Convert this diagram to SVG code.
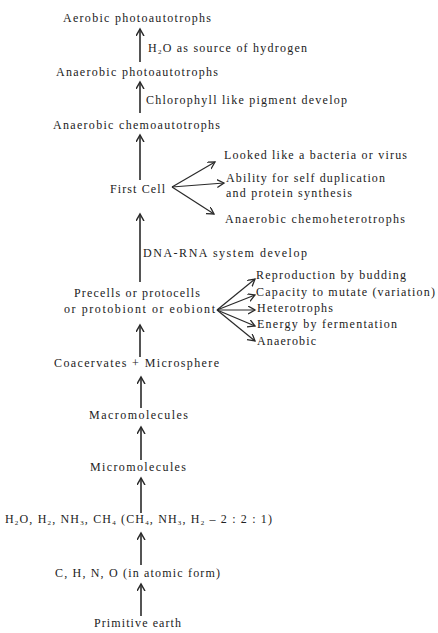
<svg xmlns="http://www.w3.org/2000/svg" width="438" height="633" viewBox="0 0 438 633">
<style>
text{font-family:"Liberation Serif","Times New Roman",serif;font-size:12px;fill:#222}
.sub{font-size:7px}
.ln{stroke:#2a2a2a;stroke-width:1.6;fill:none}
.br{stroke:#2a2a2a;stroke-width:1.2;fill:none}
</style>
<defs>
<marker id="ah" markerUnits="userSpaceOnUse" markerWidth="10" markerHeight="10" refX="7" refY="4" orient="auto">
<path d="M0,0 L7,4 L0,8" fill="none" stroke="#2a2a2a" stroke-width="1.5"/>
</marker>
<marker id="ah2" markerUnits="userSpaceOnUse" markerWidth="10" markerHeight="10" refX="7" refY="4" orient="auto">
<path d="M0,0 L7,4 L0,8" fill="none" stroke="#2a2a2a" stroke-width="1.3"/>
</marker>
</defs>
<g id="connectors">
<line class="ln" x1="140" y1="62" x2="140" y2="29" marker-end="url(#ah)"/>
<line class="ln" x1="140" y1="113" x2="140" y2="82" marker-end="url(#ah)"/>
<line class="ln" x1="140" y1="180" x2="140" y2="135" marker-end="url(#ah)"/>
<line class="ln" x1="140" y1="282" x2="140" y2="214" marker-end="url(#ah)"/>
<line class="ln" x1="140" y1="357" x2="140" y2="325" marker-end="url(#ah)"/>
<line class="ln" x1="141" y1="408" x2="141" y2="377" marker-end="url(#ah)"/>
<line class="ln" x1="141" y1="460" x2="141" y2="427" marker-end="url(#ah)"/>
<line class="ln" x1="141" y1="513" x2="141" y2="478" marker-end="url(#ah)"/>
<line class="ln" x1="141" y1="565" x2="141" y2="533" marker-end="url(#ah)"/>
<line class="ln" x1="141" y1="616" x2="141" y2="584" marker-end="url(#ah)"/>
<line class="br" x1="172" y1="187" x2="215" y2="162" marker-end="url(#ah2)"/>
<line class="br" x1="172" y1="187" x2="224" y2="183" marker-end="url(#ah2)"/>
<line class="br" x1="172" y1="187" x2="214" y2="214" marker-end="url(#ah2)"/>
<line class="br" x1="217" y1="310" x2="255" y2="279" marker-end="url(#ah2)"/>
<line class="br" x1="217" y1="310" x2="255" y2="295" marker-end="url(#ah2)"/>
<line class="br" x1="217" y1="310" x2="255" y2="310" marker-end="url(#ah2)"/>
<line class="br" x1="217" y1="310" x2="255" y2="326" marker-end="url(#ah2)"/>
<line class="br" x1="217" y1="310" x2="255" y2="341" marker-end="url(#ah2)"/>
</g>
<g id="aerobic-photo"><text x="63" y="22" textLength="148" lengthAdjust="spacing">Aerobic photoautotrophs</text></g>
<g id="label-h2o"><text x="148" y="52" textLength="159" lengthAdjust="spacing">H<tspan class="sub" dy="2">2</tspan><tspan dy="-2">O as source of hydrogen</tspan></text></g>
<g id="anaerobic-photo"><text x="56" y="76" textLength="162" lengthAdjust="spacing">Anaerobic photoautotrophs</text></g>
<g id="label-chl"><text x="146" y="104" textLength="201" lengthAdjust="spacing">Chlorophyll like pigment develop</text></g>
<g id="anaerobic-chemo"><text x="53" y="129" textLength="167" lengthAdjust="spacing">Anaerobic chemoautotrophs</text></g>
<g id="first-cell"><text x="110" y="193" textLength="55" lengthAdjust="spacing">First Cell</text></g>
<g id="fc-1"><text x="224" y="159" textLength="183" lengthAdjust="spacing">Looked like a bacteria or virus</text></g>
<g id="fc-2"><text x="226" y="182" textLength="159" lengthAdjust="spacing">Ability for self duplication</text><text x="226" y="197" textLength="126" lengthAdjust="spacing">and protein synthesis</text></g>
<g id="fc-3"><text x="225" y="223" textLength="180" lengthAdjust="spacing">Anaerobic chemoheterotrophs</text></g>
<g id="label-dna"><text x="143" y="257" textLength="164" lengthAdjust="spacing">DNA-RNA system develop</text></g>
<g id="pc-1"><text x="256" y="279" textLength="150" lengthAdjust="spacing">Reproduction by budding</text></g>
<g id="pc-2"><text x="256" y="296" textLength="179" lengthAdjust="spacing">Capacity to mutate (variation)</text></g>
<g id="pc-3"><text x="257" y="312" textLength="76" lengthAdjust="spacing">Heterotrophs</text></g>
<g id="pc-4"><text x="257" y="328" textLength="140" lengthAdjust="spacing">Energy by fermentation</text></g>
<g id="pc-5"><text x="257" y="345" textLength="59" lengthAdjust="spacing">Anaerobic</text></g>
<g id="precells"><text x="74" y="297" textLength="126" lengthAdjust="spacing">Precells or protocells</text><text x="64" y="313" textLength="151" lengthAdjust="spacing">or protobiont or eobiont</text></g>
<g id="coacervates"><text x="54" y="367" textLength="165" lengthAdjust="spacing">Coacervates + Microsphere</text></g>
<g id="macro"><text x="89" y="419" textLength="99" lengthAdjust="spacing">Macromolecules</text></g>
<g id="micro"><text x="90" y="471" textLength="96" lengthAdjust="spacing">Micromolecules</text></g>
<g id="gases"><text x="5" y="523" textLength="267" lengthAdjust="spacing">H<tspan class="sub" dy="2">2</tspan><tspan dy="-2">O, H</tspan><tspan class="sub" dy="2">2</tspan><tspan dy="-2">, NH</tspan><tspan class="sub" dy="2">3</tspan><tspan dy="-2">, CH</tspan><tspan class="sub" dy="2">4</tspan><tspan dy="-2"> (CH</tspan><tspan class="sub" dy="2">4</tspan><tspan dy="-2">, NH</tspan><tspan class="sub" dy="2">3</tspan><tspan dy="-2">, H</tspan><tspan class="sub" dy="2">2</tspan><tspan dy="-2"> – 2 : 2 : 1)</tspan></text></g>
<g id="atoms"><text x="55" y="577" textLength="165" lengthAdjust="spacing">C, H, N, O (in atomic form)</text></g>
<g id="earth"><text x="94" y="627" textLength="87" lengthAdjust="spacing">Primitive earth</text></g>
</svg>
